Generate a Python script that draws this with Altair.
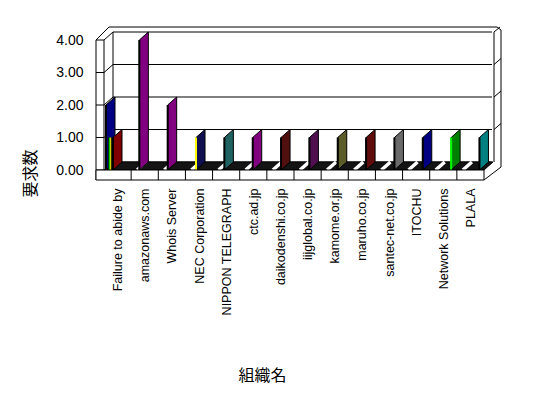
import json
import altair as alt
import pandas as pd

# ---------------- data ----------------
categories = ["Failure to abide by", "amazonaws.com", "Whois Server", "NEC Corporation",
              "NIPPON TELEGRAPH", "ctc.ad.jp", "daikodenshi.co.jp", "iijglobal.co.jp",
              "kamome.or.jp", "maruho.co.jp", "santec-net.co.jp", "ITOCHU",
              "Network Solutions", "PLALA"]
front_values = [1, 4, 2, 1, 1, 1, 1, 1, 1, 1, 1, 1, 1, 1]
back_values = [2, 0, 0, 0, 0, 0, 0, 0, 0, 0, 0, 0, 0, 0]
# series hidden (edge-on) behind the red bar of the first category
hidden_values = [1, 1]
hidden_colors = ["#00ff00", "#ffff00"]
front_colors = ["#800000", "#800080", "#800080", "#101050", "#206262", "#800080", "#501010",
                "#501050", "#5c5c28", "#600c0c", "#6a6a6a", "#000080", "#008000", "#008080"]
edge_colors = ["#000000", "#000000", "#000000", "#ffff00", "#000000", "#000000", "#000000",
               "#000000", "#000000", "#000000", "#000000", "#000000", "#00ff00", "#000000"]
back_color = "#000080"
y_ticks = [0, 1, 2, 3, 4]

# ---------------- geometry / style ----------------
W, H = 380, 130
YMAX = 4
N = len(categories)
cw = W / N
ppu = H / YMAX
DX, DY = 9, 8
dd = DY / ppu


def py(v):
    return H - v * ppu


def plate_rows(pid, i, off_px, v, color):
    x0 = i + off_px / cw
    x1 = x0 + DX / cw
    return [dict(pid=pid, x=x0, lo=0.0, hi=v, color=color),
            dict(pid=pid, x=x1, lo=dd, hi=v + dd, color=color)]


front_rows, back_rows, front_edges, back_edges, hidden_edges = [], [], [], [], []
for i, (v, col, ecol) in enumerate(zip(front_values, front_colors, edge_colors)):
    off = 7 + 1.2 * i
    if back_values[i] > 0:
        off = 9
        back_rows += plate_rows(f"b{i:02d}", i, 2, back_values[i], back_color)
        back_edges.append(dict(x=i + 2 / cw, lo=0.0, hi=back_values[i], color="#000000", w=2))
        hidden_edges.append(dict(x=i + 6.5 / cw, lo=0.0, hi=max(hidden_values), color="#000000", w=5))
        for k, (hv, hc) in enumerate(zip(hidden_values, hidden_colors)):
            hidden_edges.append(dict(x=i + (5.3 + 1.4 * k) / cw, lo=0.0, hi=hv, color=hc, w=1))
    front_rows += plate_rows(f"f{i:02d}", i, off, v, col)
    front_edges.append(dict(x=i + off / cw, lo=0.0, hi=v, color=ecol, w=2))

floor_rows = [dict(x=0.0, lo=0.0, hi=0.0), dict(x=DX / cw, lo=0.0, hi=dd),
              dict(x=float(N), lo=0.0, hi=dd), dict(x=N + DX / cw, lo=dd, hi=dd)]
slash_rows = [dict(x=i + 6 / cw, x2=i + (6 + DX) / cw, lo=0.0, hi=dd) for i in range(N)]
divider_rows = [dict(x=float(i)) for i in range(1, N)]

xs = alt.Scale(domain=[0, N], nice=False, zero=False)
ys = alt.Scale(domain=[0, YMAX], nice=False, zero=False)

x_axis = alt.Axis(values=[i + 0.5 for i in range(N)],
                  labelExpr=f"{json.dumps(categories)}[floor(datum.value)]",
                  labelAngle=-90, labelPadding=18, labelFont="Liberation Sans",
                  labelFontSize=12.5, labelColor="black", labelOverlap=False, labelFlush=False,
                  domain=False, ticks=False, grid=False,
                  title="組織名", titleFont="Noto Sans CJK JP", titleFontSize=16,
                  titleFontWeight="normal", titleColor="black",
                  titleX=158, titleY=205, titleAlign="center", titleBaseline="middle")
y_axis = alt.Axis(values=y_ticks, format=".2f", labelPadding=21, labelFont="Liberation Sans",
                  labelFontSize=14, labelColor="black", domain=False, ticks=False, grid=False,
                  title="要求数", titleFont="Noto Sans CJK JP", titleFontSize=16,
                  titleFontWeight="normal", titleColor="black",
                  titleX=-74, titleY=133, titleAlign="center", titleBaseline="middle")


def X(field):
    return alt.X(field, type="quantitative", scale=xs, axis=x_axis)


def Y(field):
    return alt.Y(field, type="quantitative", scale=ys, axis=y_axis)


one = pd.DataFrame({"k": [0]})


def seg(x, x2, y, y2, color="black", width=1):
    return alt.Chart(one).mark_rule(color=color, strokeWidth=width).encode(
        x=alt.value(x), x2=alt.value(x2), y=alt.value(y), y2=alt.value(y2))


frame = []
# back wall
for v in y_ticks:
    frame.append(seg(DX, W + DX - 1, py(v) - DY, py(v) - DY))
frame.append(seg(DX, DX, py(YMAX) - DY, py(0) - DY))
frame.append(seg(W + DX + 1, W + DX + 1, py(YMAX) - DY, py(0) - DY))
# left wall slab
frame.append(seg(-8, -8, py(YMAX), H + 10))
frame.append(seg(0, 0, py(YMAX), H))
for v in y_ticks:
    frame.append(seg(-8, 0, py(v), py(v)))
    frame.append(seg(0, DX, py(v), py(v) - DY))
frame.append(seg(-8, 5, py(YMAX), py(YMAX) - 13))
frame.append(seg(5, W + 13, py(YMAX) - 13, py(YMAX) - 13))
# right wall slab
frame.append(seg(W + 13, W + 17, py(YMAX) - 13, py(YMAX) - 10))
frame.append(seg(W + 17, W + 17, py(YMAX) - 10, H - 3))
frame.append(seg(W + DX + 1, W + 16, py(YMAX) - DY, py(YMAX) - 13))
for v in y_ticks[1:4]:
    frame.append(seg(W + DX + 1, W + 17, py(v) - DY, py(v) - 14))
frame.append(seg(W, W + 17, H + 10, H - 3))

floor = alt.Chart(pd.DataFrame(floor_rows)).mark_area(
    orient="vertical", color="#141414", stroke="black", strokeWidth=1).encode(
    x=X("x"), y=Y("lo"), y2=alt.Y2("hi"))

slashes = alt.Chart(pd.DataFrame(slash_rows)).mark_rule(color="white", strokeWidth=3.5).encode(
    x=X("x"), x2=alt.X2("x2"), y=Y("lo"), y2=alt.Y2("hi"))


def plates(rows):
    return alt.Chart(pd.DataFrame(rows)).mark_area(
        orient="vertical", stroke="black", strokeWidth=1).encode(
        x=X("x"), y=Y("lo"), y2=alt.Y2("hi"),
        fill=alt.Fill("color:N", scale=None, legend=None), detail="pid:N")


def edges(rows):
    return alt.Chart(pd.DataFrame(rows)).mark_rule().encode(
        x=X("x"), y=Y("lo"), y2=alt.Y2("hi"),
        color=alt.Color("color:N", scale=None, legend=None),
        strokeWidth=alt.StrokeWidth("w:Q", scale=None, legend=None))


front_box = alt.Chart(one).mark_rect(fill="white", stroke="black", strokeWidth=1).encode(
    x=alt.value(-8), x2=alt.value(W), y=alt.value(H), y2=alt.value(H + 10))

dividers = alt.Chart(pd.DataFrame(divider_rows)).mark_rule(color="black").encode(
    x=X("x"), y=alt.value(H), y2=alt.value(H + 10))

layers = frame + [floor, slashes]
if back_rows:
    layers += [plates(back_rows), edges(back_edges), edges(hidden_edges)]
layers += [plates(front_rows), edges(front_edges), front_box, dividers]

chart = alt.layer(*layers).properties(
    width=W, height=H,
    padding={"left": 96, "top": 32, "right": 56, "bottom": 220},
    autosize=alt.AutoSizeParams(type="none"),
    background="white",
).configure_view(strokeWidth=0)

chart.save("out.html", embed_options={"renderer": "svg", "actions": False})
